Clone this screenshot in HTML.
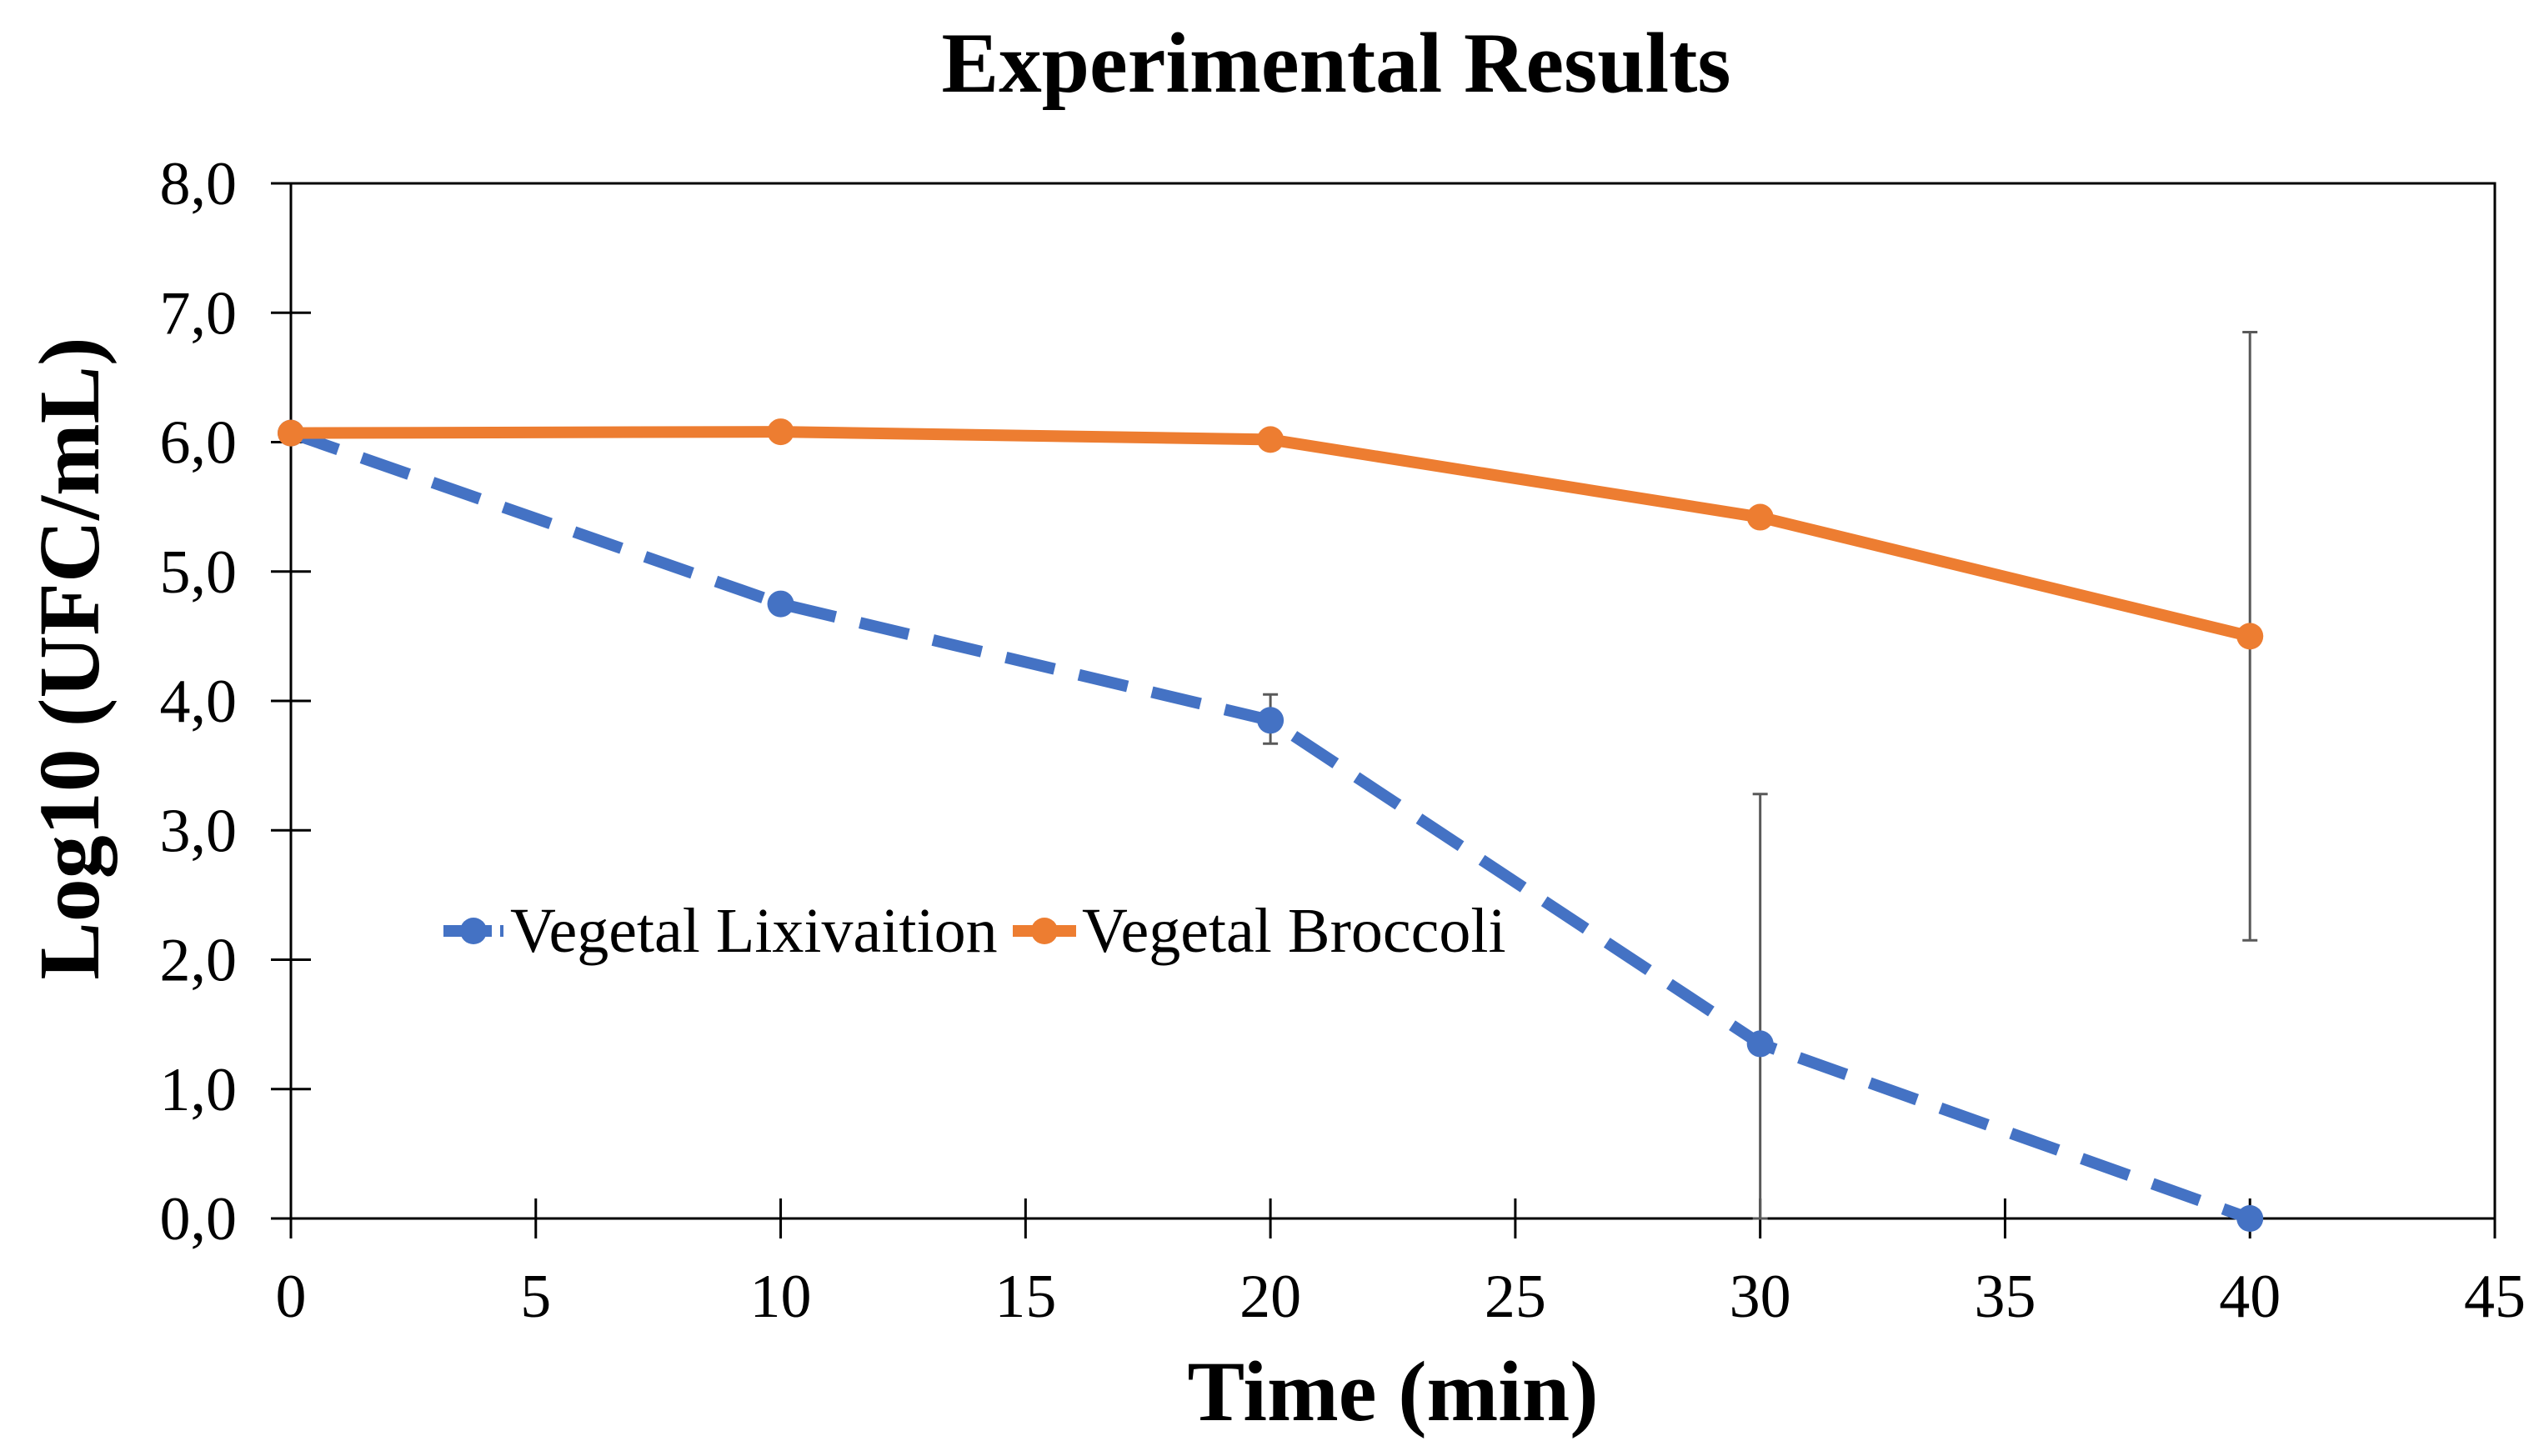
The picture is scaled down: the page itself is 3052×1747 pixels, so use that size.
<!DOCTYPE html>
<html><head><meta charset="utf-8"><style>
html,body{margin:0;padding:0;background:#fff}
svg{display:block}
text{font-family:"Liberation Serif","DejaVu Serif",serif;fill:#000}
</style></head><body>
<svg id="chart" width="3052" height="1747" viewBox="0 0 3052 1747">
<text x="1603" y="110" font-size="103" font-weight="bold" text-anchor="middle">Experimental Results</text>
<g id="axes"></g>
<g id="series"></g>
<text x="1671" y="1704" font-size="103" font-weight="bold" text-anchor="middle">Time (min)</text>
<text transform="translate(118,790) rotate(-90)" font-size="104" font-weight="bold" text-anchor="middle">Log10 (UFC/mL)</text>
<g>
<g>
<line x1="532" y1="1117" x2="604" y2="1117" stroke="#4472C4" stroke-width="14" stroke-dasharray="24,10"/>
<circle cx="568" cy="1117" r="16" fill="#4472C4"/>
<text x="612" y="1142" font-size="76">Vegetal Lixivaition</text>
</g>
<g>
<line x1="1215" y1="1117" x2="1291" y2="1117" stroke="#ED7D31" stroke-width="14"/>
<circle cx="1253" cy="1117" r="16" fill="#ED7D31"/>
<text x="1298" y="1142" font-size="76">Vegetal Broccoli</text>
</g>
</g>
</svg>
<script>
const xTicks = [0,5,10,15,20,25,30,35,40,45];
const yTicks = [0,1,2,3,4,5,6,7,8];
const yTickLabels = ["0,0","1,0","2,0","3,0","4,0","5,0","6,0","7,0","8,0"];
const times = [0,10,20,30,40];
const lixValues = [6.07,4.75,3.85,1.35,0];
const lixErrLow = [6.07,4.75,3.67,0,0];
const lixErrHigh = [6.07,4.75,4.05,3.28,0];
const broValues = [6.07,6.08,6.02,5.42,4.50];
const broErrLow = [6.07,6.08,5.97,5.42,2.15];
const broErrHigh = [6.07,6.08,6.07,5.42,6.85];

const X0=349,X1=2993,Y0=1462,Y1=220;
function sx(v){return X0+(v-0)/(45-0)*(X1-X0);}
function sy(v){return Y0-(v-0)/(8-0)*(Y0-Y1);}
const NS="http://www.w3.org/2000/svg";
function mk(tag,attrs,parent){const e=document.createElementNS(NS,tag);for(const k in attrs)e.setAttribute(k,attrs[k]);parent.appendChild(e);return e;}
const axes=document.getElementById('axes'), ser=document.getElementById('series');

const frame=mk('rect',{x:X0,y:Y1,width:X1-X0,height:Y0-Y1,fill:'none',stroke:'#000','stroke-width':3},axes);


yTicks.forEach((t,i)=>{
  const l=mk('line',{x1:X0-24,x2:X0+24,y1:sy(t),y2:sy(t),stroke:'#000','stroke-width':3},axes);
  
  
  const tx=mk('text',{x:284,y:sy(t)+25,'font-size':74,'text-anchor':'end'},axes);
  tx.textContent=yTickLabels[i];
  
  
});
xTicks.forEach(t=>{
  const l=mk('line',{x1:sx(t),x2:sx(t),y1:Y0-24,y2:Y0+24,stroke:'#000','stroke-width':3},axes);
  
  
  const tx=mk('text',{x:sx(t),y:1580,'font-size':74,'text-anchor':'middle'},axes);
  tx.textContent=String(t);
  
  
});

function drawSeries(vals,lo,hi,color,dash,name){
  const g=mk('g',{},ser);
  
  
  const pts=times.map((t,i)=>sx(t)+','+sy(vals[i])).join(' ');
  const pl=mk('polyline',{points:pts,fill:'none',stroke:color,'stroke-width':14,'stroke-linejoin':'round'},g);
  if(dash)pl.setAttribute('stroke-dasharray',dash);
  
  
  times.forEach((t,i)=>{
    if(hi[i]-lo[i]>0.01){
      const e=mk('path',{d:`M${sx(t)},${sy(lo[i])}V${sy(hi[i])}M${sx(t)-9},${sy(lo[i])}H${sx(t)+9}M${sx(t)-9},${sy(hi[i])}H${sx(t)+9}`,stroke:'#595959','stroke-width':3,fill:'none'},g);
      
      
    }
    const c=mk('circle',{cx:sx(t),cy:sy(vals[i]),r:16,fill:color},g);
    
    
  });
}
drawSeries(lixValues,lixErrLow,lixErrHigh,'#4472C4','60,30','lixivaition-series');
drawSeries(broValues,broErrLow,broErrHigh,'#ED7D31',null,'broccoli-series');
</script>
</body></html>
